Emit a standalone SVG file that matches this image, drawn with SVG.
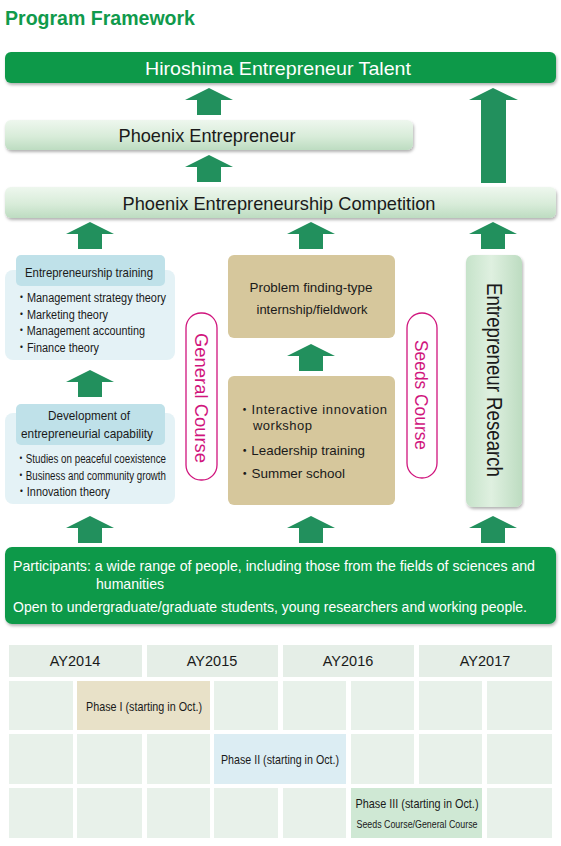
<svg xmlns="http://www.w3.org/2000/svg" width="561" height="846" viewBox="0 0 561 846">
<style>
text{font-family:"Liberation Sans","Noto Sans CJK JP",Arial,sans-serif;fill:#1a1a1a}
.t{font-size:19px}
.w{fill:#ffffff}
.h13{font-size:13px}
.b12{font-size:12px}
.p{font-size:14.5px}
.mag{fill:#d0157d;font-size:18px}
.pill{fill:#ffffff;stroke:#d0157d;stroke-width:1.3}
.arr{fill:#22905d}
.cell{fill:#e8f1ea}
.hdr{fill:#e5eee7}
.lb{fill:#e4f2f6}
.hb{fill:#bfe1e9}
.tan{fill:#d6c79c}
.gbar{fill:#10994a}
</style>
<defs>
<linearGradient id="lg" x1="0" y1="0" x2="0" y2="1">
<stop offset="0" stop-color="#eef7ee"/>
<stop offset="0.55" stop-color="#d8ecd9"/>
<stop offset="1" stop-color="#bddcc1"/>
</linearGradient>
<linearGradient id="lgh" x1="0" y1="0" x2="1" y2="0">
<stop offset="0" stop-color="#c6e3ca"/>
<stop offset="0.45" stop-color="#dff0e0"/>
<stop offset="1" stop-color="#bddcc1"/>
</linearGradient>
<filter id="sh" x="-5%" y="-20%" width="110%" height="150%">
<feDropShadow dx="1" dy="2" stdDeviation="1.5" flood-color="#000" flood-opacity="0.3"/>
</filter>
<path id="a" d="M0,0 L24,12 L12,12 L12,27 L-12,27 L-12,12 L-24,12 Z"/>
</defs>

<g id="title">
<text x="5" y="25" style="font-size:21px;font-weight:bold;fill:#109a4c" textLength="190" lengthAdjust="spacingAndGlyphs">Program Framework</text>
</g>

<g id="hiroshima-talent">
<rect x="5" y="52" width="551" height="31" rx="6" class="gbar" filter="url(#sh)"/>
<text x="278" y="75" class="t w" text-anchor="middle" textLength="266" lengthAdjust="spacingAndGlyphs">Hiroshima Entrepreneur Talent</text>
</g>

<g id="phoenix-entrepreneur">
<rect x="5" y="120" width="408" height="30" rx="6" fill="url(#lg)" filter="url(#sh)"/>
<text x="207" y="142" class="t" text-anchor="middle" textLength="177" lengthAdjust="spacingAndGlyphs">Phoenix Entrepreneur</text>
</g>

<g id="phoenix-competition">
<rect x="5" y="187" width="551" height="31" rx="6" fill="url(#lg)" filter="url(#sh)"/>
<text x="279" y="210" class="t" text-anchor="middle" textLength="313" lengthAdjust="spacingAndGlyphs">Phoenix Entrepreneurship Competition</text>
</g>

<g id="entrepreneurship-training">
<rect x="5" y="270" width="170" height="90" rx="8" class="lb"/>
<rect x="16" y="255" width="149" height="31" rx="5" class="hb"/>
<text x="89" y="277" class="h13" text-anchor="middle" textLength="128" lengthAdjust="spacingAndGlyphs">Entrepreneurship training</text>
<text x="16" y="302" class="b12" textLength="150" lengthAdjust="spacingAndGlyphs">・Management strategy theory</text>
<text x="16" y="319" class="b12" textLength="92" lengthAdjust="spacingAndGlyphs">・Marketing theory</text>
<text x="16" y="335" class="b12" textLength="129" lengthAdjust="spacingAndGlyphs">・Management accounting</text>
<text x="16" y="352" class="b12" textLength="83" lengthAdjust="spacingAndGlyphs">・Finance theory</text>
</g>

<g id="development-capability">
<rect x="5" y="413" width="170" height="91" rx="8" class="lb"/>
<rect x="16" y="404" width="149" height="41" rx="5" class="hb"/>
<text x="89" y="420" class="h13" text-anchor="middle" textLength="82" lengthAdjust="spacingAndGlyphs">Development of</text>
<text x="87" y="438" class="h13" text-anchor="middle" textLength="132" lengthAdjust="spacingAndGlyphs">entrepreneurial capability</text>
<text x="16" y="463" class="b12" textLength="150" lengthAdjust="spacingAndGlyphs">・Studies on peaceful coexistence</text>
<text x="16" y="480" class="b12" textLength="150" lengthAdjust="spacingAndGlyphs">・Business and community growth</text>
<text x="16" y="496" class="b12" textLength="94" lengthAdjust="spacingAndGlyphs">・Innovation theory</text>
</g>

<g id="general-course">
<rect x="186" y="313" width="31" height="167" rx="15" class="pill"/>
<text transform="translate(201.5,398) rotate(90)" x="0" y="6.5" class="mag" text-anchor="middle" textLength="130" lengthAdjust="spacingAndGlyphs">General Course</text>
</g>

<g id="problem-finding">
<rect x="228" y="255" width="167" height="83" rx="6" class="tan"/>
<text x="311" y="292" class="h13" text-anchor="middle" textLength="123" lengthAdjust="spacingAndGlyphs">Problem finding-type</text>
<text x="312" y="314" class="h13" text-anchor="middle" textLength="111" lengthAdjust="spacingAndGlyphs">internship/fieldwork</text>
</g>

<g id="innovation-workshop">
<rect x="228" y="376" width="167" height="129" rx="6" class="tan"/>
<text x="238" y="414" class="h13" textLength="149" lengthAdjust="spacing">・Interactive innovation</text>
<text x="253" y="430" class="h13" textLength="59" lengthAdjust="spacing">workshop</text>
<text x="238" y="455" class="h13" textLength="127" lengthAdjust="spacingAndGlyphs">・Leadership training</text>
<text x="238" y="478" class="h13" textLength="107" lengthAdjust="spacingAndGlyphs">・Summer school</text>
</g>

<g id="seeds-course">
<rect x="407" y="313" width="30" height="165" rx="15" class="pill"/>
<text transform="translate(421,395) rotate(90)" x="0" y="6.5" class="mag" text-anchor="middle" textLength="110" lengthAdjust="spacingAndGlyphs">Seeds Course</text>
</g>

<g id="entrepreneur-research">
<rect x="466" y="255" width="56" height="252" rx="7" fill="url(#lgh)" filter="url(#sh)"/>
<text transform="translate(495,380) rotate(90)" x="0" y="8" style="font-size:22px" text-anchor="middle" textLength="194" lengthAdjust="spacingAndGlyphs">Entrepreneur Research</text>
</g>

<g id="participants">
<rect x="5" y="547" width="551" height="77" rx="7" class="gbar" filter="url(#sh)"/>
<text x="13" y="571" class="w p" textLength="522" lengthAdjust="spacingAndGlyphs">Participants: a wide range of people, including those from the fields of sciences and</text>
<text x="96" y="589" class="w p" textLength="68" lengthAdjust="spacingAndGlyphs">humanities</text>
<text x="13" y="612" class="w p" textLength="514" lengthAdjust="spacingAndGlyphs">Open to undergraduate/graduate students, young researchers and working people.</text>
</g>

<g id="connectors" class="arr">
<use href="#a" x="209" y="88"/>
<path d="M493,88 L518,100 L506,100 L506,183 L481,183 L481,100 L469,100 Z"/>
<use href="#a" x="209" y="155"/>
<use href="#a" x="90" y="222"/>
<use href="#a" x="311" y="222"/>
<use href="#a" x="493" y="222"/>
<use href="#a" x="90" y="370"/>
<use href="#a" x="311" y="344"/>
<use href="#a" x="90" y="516"/>
<use href="#a" x="311" y="516"/>
<use href="#a" x="493" y="516"/>
</g>

<g id="timeline">
<rect x="9" y="645" width="133" height="32" class="hdr"/>
<rect x="147" y="645" width="131" height="32" class="hdr"/>
<rect x="283" y="645" width="131" height="32" class="hdr"/>
<rect x="419" y="645" width="133" height="32" class="hdr"/>
<text x="75" y="666" style="font-size:14.5px" text-anchor="middle">AY2014</text>
<text x="212" y="666" style="font-size:14.5px" text-anchor="middle">AY2015</text>
<text x="348" y="666" style="font-size:14.5px" text-anchor="middle">AY2016</text>
<text x="485" y="666" style="font-size:14.5px" text-anchor="middle">AY2017</text>

<rect x="9" y="681" width="64" height="49" class="cell"/>
<rect x="214" y="681" width="64" height="49" class="cell"/>
<rect x="283" y="681" width="63" height="49" class="cell"/>
<rect x="351" y="681" width="63" height="49" class="cell"/>
<rect x="419" y="681" width="63" height="49" class="cell"/>
<rect x="487" y="681" width="65" height="49" class="cell"/>

<rect x="9" y="734" width="64" height="50" class="cell"/>
<rect x="77" y="734" width="65" height="50" class="cell"/>
<rect x="147" y="734" width="63" height="50" class="cell"/>
<rect x="351" y="734" width="63" height="50" class="cell"/>
<rect x="419" y="734" width="63" height="50" class="cell"/>
<rect x="487" y="734" width="65" height="50" class="cell"/>

<rect x="9" y="788" width="64" height="50" class="cell"/>
<rect x="77" y="788" width="65" height="50" class="cell"/>
<rect x="147" y="788" width="63" height="50" class="cell"/>
<rect x="214" y="788" width="64" height="50" class="cell"/>
<rect x="283" y="788" width="63" height="50" class="cell"/>
<rect x="487" y="788" width="65" height="50" class="cell"/>
</g>

<g id="phase1">
<rect x="77" y="681" width="133" height="49" fill="#e8e1c8"/>
<text x="144" y="711" class="h13" text-anchor="middle" textLength="116" lengthAdjust="spacingAndGlyphs">Phase I (starting in Oct.)</text>
</g>
<g id="phase2">
<rect x="214" y="734" width="132" height="50" fill="#dcedf3"/>
<text x="280" y="764" class="h13" text-anchor="middle" textLength="118" lengthAdjust="spacingAndGlyphs">Phase II (starting in Oct.)</text>
</g>
<g id="phase3">
<rect x="351" y="788" width="131" height="50" fill="#cfe8d4"/>
<text x="417" y="808" class="h13" text-anchor="middle" textLength="123" lengthAdjust="spacingAndGlyphs">Phase III (starting in Oct.)</text>
<text x="417" y="828" style="font-size:10px" text-anchor="middle" textLength="121" lengthAdjust="spacingAndGlyphs">Seeds Course/General Course</text>
</g>
</svg>
